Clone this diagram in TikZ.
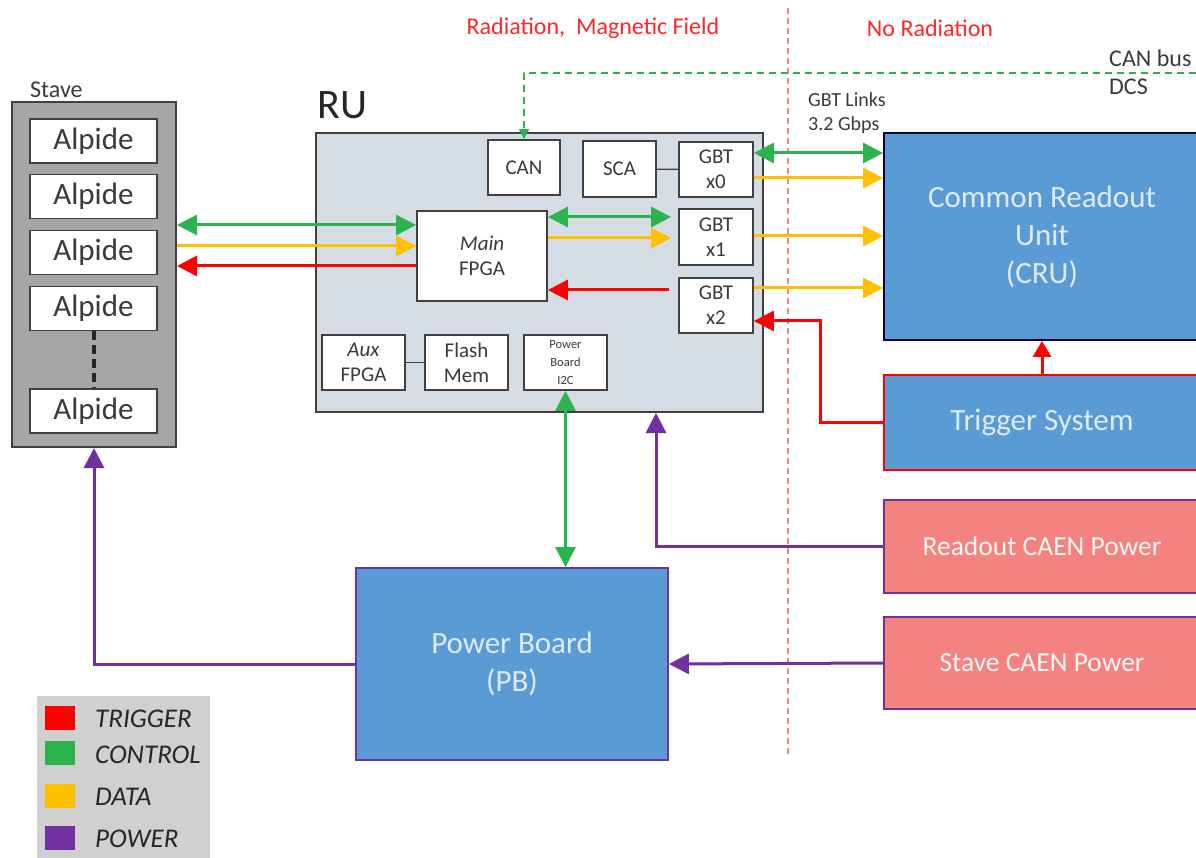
\documentclass[tikz,border=0pt]{standalone}
\usepackage{fontspec}
\setmainfont{Carlito}
\usetikzlibrary{arrows.meta,calc}
\definecolor{cTrig}{HTML}{FF0000}
\definecolor{cCtrl}{HTML}{2CB34E}
\definecolor{cData}{HTML}{FFC000}
\definecolor{cPow}{HTML}{7030A0}
\definecolor{cBlue}{HTML}{5B9BD5}
\definecolor{cSalmon}{HTML}{F4827E}
\definecolor{cRU}{HTML}{D6DCE4}
\definecolor{cStave}{HTML}{A6A6A6}
\definecolor{cLeg}{HTML}{D0D0D0}
\definecolor{cTxt}{HTML}{3A3A3A}
\definecolor{cLight}{HTML}{DEEBF7}
\definecolor{cDash}{HTML}{F4868A}
\definecolor{cEdge}{HTML}{404040}
\newcommand\fsz[2]{\fontsize{#1}{#2}\selectfont}
\tikzset{
  wbox/.style={draw=cEdge, line width=1.8pt, fill=white, align=center, inner sep=0pt, text=cTxt, font=\fsz{21}{25}},
  bigbox/.style={line width=1.8pt, align=center, inner sep=0pt, text=cLight},
  conn/.style={line width=3pt},
  tipbig/.style={-{Triangle[length=20pt,width=20pt]}},
  tipboth/.style={{Triangle[length=20pt,width=20pt]}-{Triangle[length=20pt,width=20pt]}},
  legsq/.style={minimum width=30, minimum height=24, inner sep=0pt},
  legtxt/.style={anchor=west, font=\fsz{27}{30}\itshape, text=black!85, inner sep=0pt},
  redlab/.style={text=cTrig!85, font=\fsz{24}{28}, inner sep=0pt},
  smalllab/.style={anchor=west, text=cTxt, font=\fsz{20}{24}, inner sep=0pt}
}
\begin{document}
\begin{tikzpicture}[x=1pt,y=-1pt]
\useasboundingbox (0,0) rectangle (1196,858);

% region divider
\coordinate (dtop) at (788,8);
\coordinate (dbot) at (788,757);
\draw[cDash, line width=1.5pt, dash pattern=on 6pt off 4pt] (dtop) -- (dbot);

\node[redlab] (radl) at (593,28) {Radiation,\ \ Magnetic Field};
\node[redlab] (norad) at (930,28) {No Radiation};

% Stave
\node[draw=cEdge, line width=2pt, fill=cStave, minimum width=164, minimum height=345, inner sep=0pt] (stave) at (94,274.5) {};
\node[anchor=west, text=cTxt, font=\fsz{24}{28}, inner sep=0pt] (stavelab) at (30,90) {Stave};
\foreach \n/\y in {a1/141, a2/196.5, a3/252.5, a4/308.5, a5/411}{
  \node[wbox, font=\fsz{31}{35}, minimum width=127, minimum height=44] (\n) at (93.5,\y) {Alpide};
}
\draw[black!85, line width=4pt, dash pattern=on 9pt off 5pt] (a4.south) -- (a5.north);

% RU
\node[draw=cEdge, line width=2pt, fill=cRU, minimum width=447, minimum height=279, inner sep=0pt] (ru) at (539.5,272.5) {};
\node[anchor=west, text=black!85, font=\fsz{42}{46}, inner sep=0pt] (rulab) at (317,105) {RU};
\node[wbox, minimum width=72, minimum height=55] (can) at (524,167.5) {CAN};
\node[wbox, minimum width=73, minimum height=56] (sca) at (619.5,169) {SCA};
\node[wbox, minimum width=74, minimum height=55] (gbt0) at (716,169.5) {GBT\\x0};
\node[wbox, minimum width=74, minimum height=56] (gbt1) at (716,237) {GBT\\x1};
\node[wbox, minimum width=74, minimum height=55] (gbt2) at (716,305.5) {GBT\\x2};
\node[wbox, minimum width=130, minimum height=90] (fpga) at (482,256) {\textit{Main}\\FPGA};
\node[wbox, minimum width=83, minimum height=55] (aux) at (363.5,362.5) {\textit{Aux}\\FPGA};
\node[wbox, minimum width=83, minimum height=55] (flash) at (466.5,362.5) {Flash\\Mem};
\node[wbox, minimum width=83, minimum height=55, font=\fsz{12.5}{18}] (pbi) at (565.5,362.5) {Power\\Board\\I2C};
\draw[cEdge, line width=1.2pt] (sca) -- (gbt0);
\draw[cEdge, line width=1.2pt] (aux) -- (flash);

% right side blocks
\node[bigbox, draw=black!80!blue, fill=cBlue, minimum width=316, minimum height=207, font=\fsz{31}{38}] (cru) at (1042,236.5) {Common Readout\\Unit\\(CRU)};
\node[bigbox, draw=cTrig, fill=cBlue, minimum width=316, minimum height=95, font=\fsz{31}{34}] (trig) at (1042,422.5) {Trigger System};
\node[bigbox, draw=cPow, fill=cSalmon, minimum width=316, minimum height=93, font=\fsz{27.5}{30}, text=white!95!cSalmon] (rcaen) at (1042,546.5) {Readout CAEN Power};
\node[bigbox, draw=cPow, fill=cSalmon, minimum width=316, minimum height=92, font=\fsz{27.5}{30}, text=white!95!cSalmon] (scaen) at (1042,663) {Stave CAEN Power};
\node[bigbox, draw=cPow, fill=cBlue, minimum width=312, minimum height=192, font=\fsz{31}{38}] (pb) at (512,664) {Power Board\\(PB)};

% labels
\node[smalllab] (gbtl1) at (808,100) {GBT Links};
\node[smalllab] (gbtl2) at (808,125) {3.2 Gbps};
\node[anchor=base west, text=cTxt, font=\fsz{24}{28}, inner sep=0pt] (canbus) at (1109,67) {CAN bus};
\node[anchor=base west, text=cTxt, font=\fsz{24}{28}, inner sep=0pt] (dcs) at (1109,95) {DCS};

% CAN bus dashed
\coordinate (canR) at (1196,73);
\draw[cCtrl, line width=2pt, dash pattern=on 7pt off 5pt, -{Triangle[length=10pt,width=10pt]}] (canR) -- (can.north |- canR) -- (can.north);

% level coordinates
\coordinate (y1) at (0,225);
\coordinate (y2) at (0,246);
\coordinate (y3) at (0,266);
\coordinate (y4) at (0,217);
\coordinate (y5) at (0,238);
\coordinate (y6) at (0,290);
\coordinate (y7) at (0,153);
\coordinate (y8) at (0,178);
\coordinate (y9) at (0,236);
\coordinate (y10) at (0,288);
\coordinate (y11) at (0,321);
\coordinate (xr) at (820,0);
\coordinate (xp) at (656,0);

% Stave <-> FPGA
\draw[conn, cCtrl, tipboth] (stave.east |- y1) -- (fpga.west |- y1);
\draw[conn, cData, tipbig] (stave.east |- y2) -- (fpga.west |- y2);
\draw[conn, cTrig, tipbig] (fpga.west |- y3) -- (stave.east |- y3);

% FPGA <-> GBT
\draw[conn, cCtrl, tipboth, shorten >=7pt] (fpga.east |- y4) -- (gbt1.west |- y4);
\draw[conn, cData, tipbig, shorten >=7pt] (fpga.east |- y5) -- (gbt1.west |- y5);
\draw[conn, cTrig, tipbig, shorten <=9pt] (gbt2.west |- y6) -- (fpga.east |- y6);

% GBT -> CRU
\draw[conn, cCtrl, tipboth] (gbt0.east |- y7) -- (cru.west |- y7);
\draw[conn, cData, tipbig] (gbt0.east |- y8) -- (cru.west |- y8);
\draw[conn, cData, tipbig] (gbt1.east |- y9) -- (cru.west |- y9);
\draw[conn, cData, tipbig] (gbt2.east |- y10) -- (cru.west |- y10);

% Trigger
\draw[conn, cTrig, tipbig] (trig.west) -- (xr |- trig.west) -- (xr |- y11) -- (gbt2.east |- y11);
\draw[conn, cTrig, -{Triangle[length=16pt,width=18pt]}] (trig.north) -- (cru.south);

% Power
\draw[conn, cPow, tipbig] (rcaen.west) -- (xp |- rcaen.west) -- (xp |- ru.south);
\draw[conn, cPow, tipbig] (scaen.west) -- (pb.east);
\draw[conn, cPow, tipbig] (pb.west) -- (stave.south |- pb.west) -- (stave.south);
\draw[conn, cCtrl, tipboth] (pbi.south) -- (pb.north -| pbi.south);

% Legend
\node[fill=cLeg, minimum width=173, minimum height=162, inner sep=0pt] (leg) at (123.5,777) {};
\node[legsq, fill=cTrig] (lt) at (60,718) {};
\node[legsq, fill=cCtrl] (lc) at (60,753) {};
\node[legsq, fill=cData] (ld) at (60,795.5) {};
\node[legsq, fill=cPow] (lp) at (60,837.5) {};
\node[legtxt] (ltt) at (95,719) {TRIGGER};
\node[legtxt] (lct) at (95,755) {CONTROL};
\node[legtxt] (ldt) at (95,797) {DATA};
\node[legtxt] (lpt) at (95,839) {POWER};
\end{tikzpicture}
\end{document}
